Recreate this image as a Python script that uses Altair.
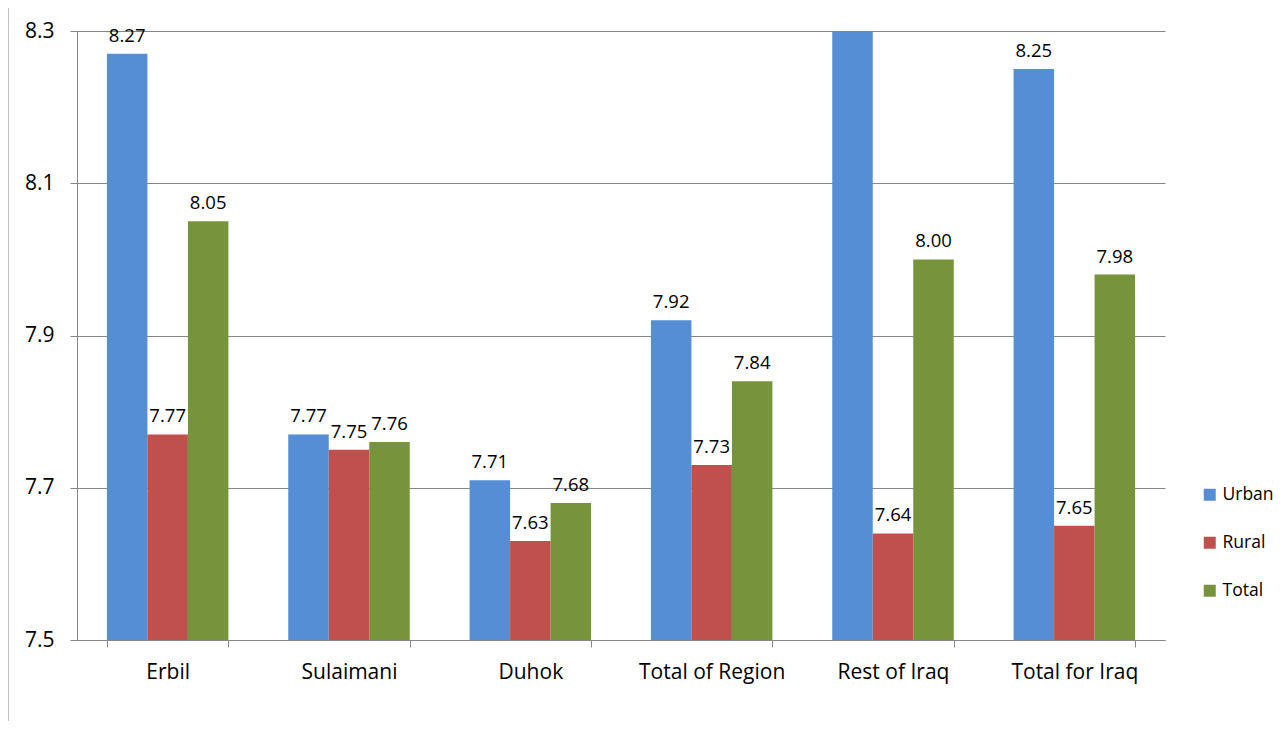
import altair as alt
import pandas as pd

categories = ["Erbil", "Sulaimani", "Duhok", "Total of Region", "Rest of Iraq", "Total for Iraq"]
series = ["Urban", "Rural", "Total"]
urban = [8.27, 7.77, 7.71, 7.92, 8.36, 8.25]
rural = [7.77, 7.75, 7.63, 7.73, 7.64, 7.65]
total = [8.05, 7.76, 7.68, 7.84, 8.00, 7.98]
y_ticks = [7.5, 7.7, 7.9, 8.1, 8.3]
colors = ["#558ED5", "#C0504D", "#77933C"]

rows = []
for i, c in enumerate(categories):
    for s, vals in zip(series, [urban, rural, total]):
        rows.append({"category": c, "series": s, "value": vals[i]})
df = pd.DataFrame(rows)

FONT = "Open Sans"
base = alt.Chart(df)

x = alt.X("category:N", sort=categories, title=None,
          scale=alt.Scale(paddingInner=0.33, paddingOuter=0.165),
          axis=alt.Axis(labelAngle=0, tickBand="extent", tickSize=7, labelPadding=14,
                        labelFontSize=21, labelFont=FONT, labelColor="#000000",
                        domainColor="#868686", tickColor="#868686", grid=False))
y = alt.Y("value:Q", title=None,
          scale=alt.Scale(domain=[7.5, 8.3], zero=False, nice=False),
          axis=alt.Axis(values=y_ticks, format=".1f", tickSize=7, labelPadding=16,
                        labelFontSize=21, labelFont=FONT, labelColor="#000000",
                        domainColor="#868686", tickColor="#868686",
                        gridColor="#868686", gridWidth=1))

bars = base.mark_bar(clip=True).encode(
    x=x,
    xOffset=alt.XOffset("series:N", sort=series),
    y=y,
    y2=alt.datum(7.5),
    color=alt.Color("series:N", sort=series,
                    scale=alt.Scale(domain=series, range=colors),
                    legend=alt.Legend(title=None, orient="none", legendX=1124, legendY=455,
                                      symbolType="square", symbolSize=144, symbolStrokeWidth=0,
                                      labelFontSize=17.5, labelFont=FONT, labelColor="#000000",
                                      rowPadding=29, labelOffset=4)),
)

labels = base.transform_filter("datum.value <= 8.3").mark_text(
    baseline="alphabetic", dy=-12, fontSize=18.5, font=FONT, color="#000000"
).encode(
    x=alt.X("category:N", sort=categories),
    xOffset=alt.XOffset("series:N", sort=series),
    y=alt.Y("value:Q"),
    text=alt.Text("value:Q", format=".2f"),
)

border = alt.Chart(pd.DataFrame({"a": [0]})).mark_rule(color="#868686", strokeWidth=1).encode(
    x=alt.value(-69), y=alt.value(-31), y2=alt.value(690)
)

chart = alt.layer(bars, labels, border).properties(
    width=1088, height=609,
    autosize=alt.AutoSizeParams(type="none"),
    padding={"left": 69, "top": 23, "right": 108, "bottom": 82},
).configure_view(stroke=None)

chart.save("out.html", embed_options={"renderer": "svg", "actions": False})
